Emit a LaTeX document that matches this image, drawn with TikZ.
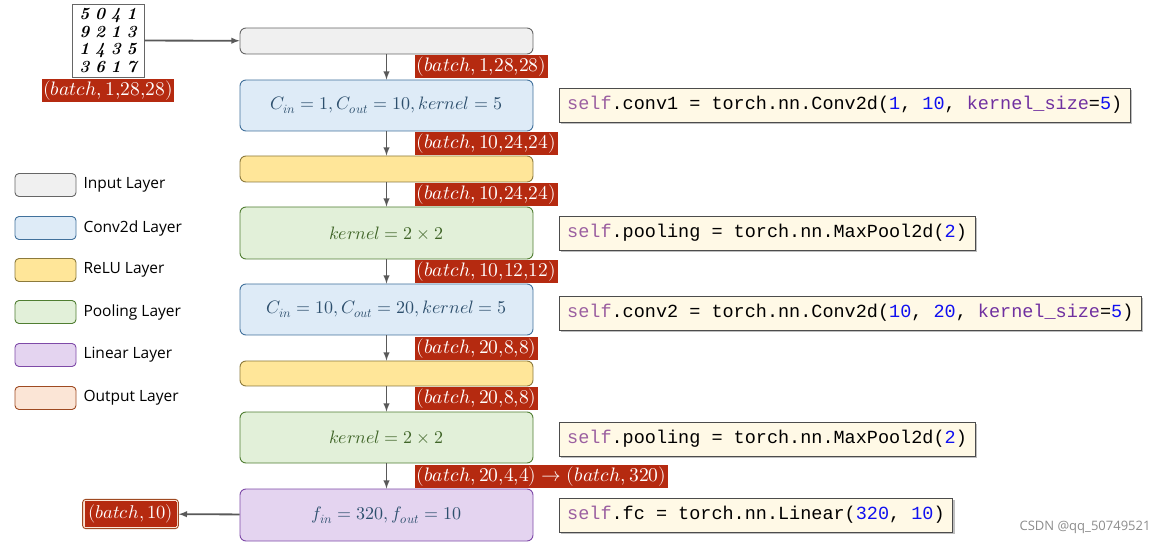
\documentclass[tikz,border=0pt]{standalone}
\usepackage{fontspec}
\usepackage{unicode-math}
\setmathfont{Latin Modern Math}
\newfontfamily\codefont{Liberation Mono}
\newfontfamily\legfont{Open Sans}
\usetikzlibrary{shadows}
\definecolor{lblred}{HTML}{B52A10}
\definecolor{arr}{HTML}{595959}
\definecolor{kw}{HTML}{9B5FA0}
\definecolor{num}{HTML}{1010F0}
\definecolor{arg}{HTML}{7030A0}
\definecolor{bfill}{HTML}{DEEBF7}
\definecolor{bdraw}{HTML}{41719C}
\definecolor{yfill}{HTML}{FFE699}
\definecolor{ydraw}{HTML}{8C7A3C}
\definecolor{gfill}{HTML}{E2F0D9}
\definecolor{gdraw}{HTML}{507E32}
\definecolor{pfill}{HTML}{E4D4F0}
\definecolor{pdraw}{HTML}{7E4AA8}
\definecolor{ofill}{HTML}{FBE5D6}
\definecolor{odraw}{HTML}{9E4A22}
\definecolor{cfill}{HTML}{FFF9E6}
\begin{document}
\begin{tikzpicture}[x=1pt,y=-1pt,
 layer/.style={draw,rounded corners=6pt,minimum width=293pt,line width=0.9pt,font=\fontsize{18}{18}\selectfont},
 leg/.style={draw,rounded corners=4pt,minimum width=61pt,minimum height=23pt,line width=0.9pt},
 legt/.style={anchor=west,font=\legfont\fontsize{15.5}{16}\selectfont},
 lbl/.style={fill=lblred,text=white,inner sep=1.5pt,anchor=south west,font=\fontsize{19.5}{19}\selectfont},
 code/.style={draw=black!70,fill=cfill,anchor=west,inner xsep=8pt,minimum height=34pt,drop shadow={shadow xshift=2pt,shadow yshift=-2pt,opacity=0.5},font=\codefont\fontsize{18.5}{18}\selectfont},
 ar/.style={-latex,draw=arr,line width=1.8pt}]
\useasboundingbox (0,0) rectangle (1168,545);
% layers
\node[layer,draw=black!60,fill=black!6,minimum height=26pt] (in) at (386.5,41) {};
\node[layer,draw=bdraw,fill=bfill,minimum height=51pt,text=bdraw!70!black] (c1) at (386.5,105.5) {$C_{in}=1,C_{out}=10,kernel=5$};
\node[layer,draw=ydraw,fill=yfill,minimum height=26pt] (r1) at (386.5,169) {};
\node[layer,draw=gdraw,fill=gfill,minimum height=52pt,text=gdraw!80!black] (p1) at (386.5,233) {$kernel=2\times2$};
\node[layer,draw=bdraw,fill=bfill,minimum height=51pt,text=bdraw!70!black] (c2) at (386.5,309.5) {$C_{in}=10,C_{out}=20,kernel=5$};
\node[layer,draw=ydraw,fill=yfill,minimum height=25pt] (r2) at (386.5,373.5) {};
\node[layer,draw=gdraw,fill=gfill,minimum height=51pt,text=gdraw!80!black] (p2) at (386.5,437.5) {$kernel=2\times2$};
\node[layer,draw=pdraw,fill=pfill,minimum height=52pt,text=bdraw!70!black] (fc) at (386.5,515) {$f_{in}=320,f_{out}=10$};
% arrows
\draw[ar] (in) -- (c1);
\draw[ar] (c1) -- (r1);
\draw[ar] (r1) -- (p1);
\draw[ar] (p1) -- (c2);
\draw[ar] (c2) -- (r2);
\draw[ar] (r2) -- (p2);
\draw[ar] (p2) -- (fc);
% shape labels
\node[lbl] (l1) at (415,78) {$(batch,1{,}28{,}28)$};
\node[lbl] (l2) at (415,155) {$(batch,10{,}24{,}24)$};
\node[lbl] (l3) at (415,206) {$(batch,10{,}24{,}24)$};
\node[lbl] (l4) at (415,283) {$(batch,10{,}12{,}12)$};
\node[lbl] (l5) at (415,360) {$(batch,20{,}8{,}8)$};
\node[lbl] (l6) at (415,410) {$(batch,20{,}8{,}8)$};
\node[lbl] (l7) at (415,488) {$(batch,20{,}4{,}4)\rightarrow(batch,320)$};
% input image
\node[draw=black!60,fill=white,line width=0.9pt,minimum width=72pt,minimum height=73pt,inner sep=0pt,align=center,font=\fontsize{17}{17.5}\selectfont\itshape\bfseries] (img) at (108,40.5) {5\,\,0\,\,4\,\,1\\9\,\,2\,\,1\,\,3\\1\,\,4\,\,3\,\,5\\3\,\,6\,\,1\,\,7};
\node[lbl,anchor=north] (limg) at (108,79) {$(batch,1{,}28{,}28)$};
\draw[ar] (img) -- (in);
% output
\node[draw=odraw,fill=ofill,rounded corners=3pt,line width=0.9pt,inner sep=2pt] (out) at (130.5,514) {\fcolorbox{lblred}{lblred}{\color{white}\fontsize{18.5}{18}\selectfont$(batch,10)$}};
\draw[ar] (fc) -- (out);
% legend
\foreach \n/\y/\f/\d/\t in {a/185/black!6/black!60/Input Layer,b/228/bfill/bdraw/Conv2d Layer,c/270/yfill/ydraw/ReLU Layer,d/312/gfill/gdraw/Pooling Layer,e/355/pfill/pdraw/Linear Layer,f/398/ofill/odraw/Output Layer}{
 \node[leg,fill=\f,draw=\d] (leg\n) at (45.5,\y) {};
 \node[legt] (legt\n) at (80,\y) {\t};
}
% code
\node[code] (k1) at (559,105) {\textcolor{kw}{self}.conv1 = torch.nn.Conv2d(\textcolor{num}{1}, \textcolor{num}{10}, \textcolor{arg}{kernel\_size}=\textcolor{num}{5})};
\node[code] (k2) at (559,233) {\textcolor{kw}{self}.pooling = torch.nn.MaxPool2d(\textcolor{num}{2})};
\node[code] (k3) at (559,313) {\textcolor{kw}{self}.conv2 = torch.nn.Conv2d(\textcolor{num}{10}, \textcolor{num}{20}, \textcolor{arg}{kernel\_size}=\textcolor{num}{5})};
\node[code] (k4) at (559,439) {\textcolor{kw}{self}.pooling = torch.nn.MaxPool2d(\textcolor{num}{2})};
\node[code] (k5) at (559,515) {\textcolor{kw}{self}.fc = torch.nn.Linear(\textcolor{num}{320}, \textcolor{num}{10})};
\node[anchor=east,text=black!45,font=\legfont\fontsize{13}{13}\selectfont] (wm) at (1154,527) {CSDN @qq\_50749521};
\end{tikzpicture}
\end{document}
